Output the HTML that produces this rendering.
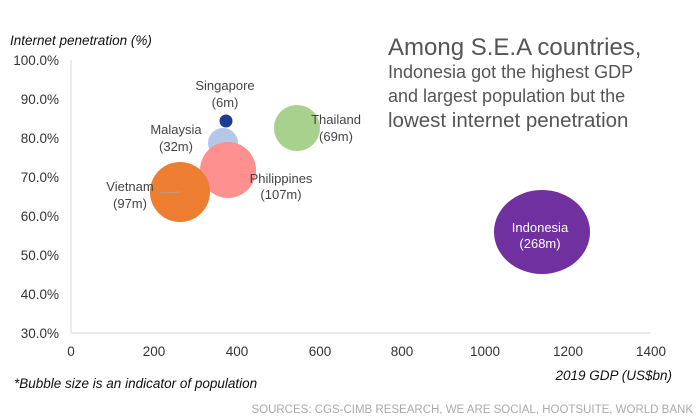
<!DOCTYPE html>
<html><head><meta charset="utf-8"><style>
body{margin:0;background:#fff;}
svg{display:block;font-family:"Liberation Sans",sans-serif;}
</style></head><body>
<svg width="700" height="420" viewBox="0 0 700 420">
<text x="10" y="45" font-size="13.5" font-style="italic" fill="#111">Internet penetration (%)</text>
<g font-size="13.5" fill="#333" text-anchor="end">
<text x="59" y="65">100.0%</text>
<text x="59" y="104">90.0%</text>
<text x="59" y="143">80.0%</text>
<text x="59" y="182">70.0%</text>
<text x="59" y="221">60.0%</text>
<text x="59" y="260">50.0%</text>
<text x="59" y="299">40.0%</text>
<text x="59" y="338">30.0%</text>
</g>
<line x1="71" y1="60" x2="71" y2="333" stroke="#d9d9d9" stroke-width="1"/>
<line x1="71" y1="333" x2="651" y2="333" stroke="#d9d9d9" stroke-width="1"/>
<g font-size="13.5" fill="#333" text-anchor="middle">
<text x="71" y="356">0</text>
<text x="154" y="356">200</text>
<text x="237" y="356">400</text>
<text x="320" y="356">600</text>
<text x="402" y="356">800</text>
<text x="485" y="356">1000</text>
<text x="568" y="356">1200</text>
<text x="651" y="356">1400</text>
</g>
<text x="672" y="380" font-size="13.5" font-style="italic" fill="#111" text-anchor="end">2019 GDP (US$bn)</text>
<text x="14" y="388" font-size="13.5" font-style="italic" fill="#111">*Bubble size is an indicator of population</text>
<text x="693" y="413" font-size="11.5" fill="#aaa" text-anchor="end">SOURCES: CGS-CIMB RESEARCH, WE ARE SOCIAL, HOOTSUITE, WORLD BANK</text>

<circle cx="297" cy="128" r="23" fill="#a9d18e"/>
<circle cx="223" cy="143" r="15" fill="#b4c7e7"/>
<circle cx="228" cy="170" r="28" fill="#ff9090"/>
<circle cx="180" cy="192" r="30" fill="#ed7d31"/>
<circle cx="226" cy="121" r="6.5" fill="#1f3c94"/>
<ellipse cx="542" cy="232" rx="48" ry="42" fill="#7030a0"/>
<line x1="160" y1="193" x2="180" y2="192" stroke="#aaa" stroke-width="0.8"/>

<g font-size="13" fill="#444" text-anchor="middle">
<text x="225" y="90">Singapore</text><text x="225" y="107">(6m)</text>
<text x="176" y="134">Malaysia</text><text x="176" y="151">(32m)</text>
<text x="336" y="124">Thailand</text><text x="336" y="141">(69m)</text>
<text x="281" y="183">Philippines</text><text x="281" y="199">(107m)</text>
<text x="130" y="191">Vietnam</text><text x="130" y="208">(97m)</text>
</g>
<g font-size="13" fill="#fff" text-anchor="middle">
<text x="540" y="232">Indonesia</text><text x="540" y="248">(268m)</text>
</g>
<g fill="#555">
<text x="388" y="55" font-size="24">Among S.E.A countries,</text>
<text x="388" y="78" font-size="18">Indonesia got the highest GDP</text>
<text x="388" y="102" font-size="18">and largest population but the</text>
<text x="388" y="127" font-size="20.5">lowest internet penetration</text>
</g>
</svg>
</body></html>
